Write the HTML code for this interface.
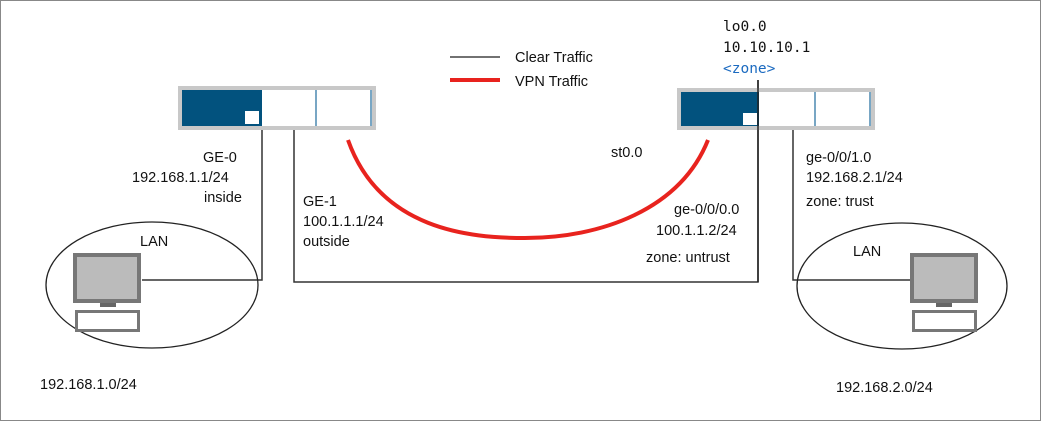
<!DOCTYPE html>
<html><head><style>
body{margin:0;background:#fff;}
svg{display:block}
text{font-family:"Liberation Sans",sans-serif;font-size:14.5px;fill:#111}
.m{font-family:"DejaVu Sans Mono","Liberation Mono",monospace;font-size:14.5px}
</style></head><body>
<svg width="1041" height="421" viewBox="0 0 1041 421">
<rect x="0.5" y="0.5" width="1040" height="420" fill="#fff" stroke="#888"/>
<line x1="450" y1="57" x2="500" y2="57" stroke="#444" stroke-width="1.5"/>
<line x1="450" y1="80" x2="500" y2="80" stroke="#e8231e" stroke-width="4"/>
<text x="515" y="62">Clear Traffic</text>
<text x="515" y="86">VPN Traffic</text>
<g stroke="#333" stroke-width="1.5" fill="none">
<polyline points="262,128 262,280 142,280"/>
<polyline points="294,128 294,282 758,282 758,80"/>
<polyline points="793,128 793,280 910,280"/>
</g>
<path d="M348,140 C380,230 470,238 525,238 C600,238 680,210 708,140" stroke="#e8231e" stroke-width="4" fill="none"/>
<g>
<rect x="178" y="86" width="198" height="44" fill="#c8c8c8"/>
<rect x="182" y="90" width="190" height="36" fill="#fff"/>
<rect x="182" y="90" width="80" height="36" fill="#02527e"/>
<rect x="245" y="111" width="14" height="13" fill="#fff"/>
<line x1="316" y1="90" x2="316" y2="126" stroke="#4a88b0" stroke-width="1.5"/>
<line x1="371" y1="90" x2="371" y2="126" stroke="#4a88b0" stroke-width="1.5"/>
</g>
<g>
<rect x="677" y="88" width="198" height="42" fill="#c8c8c8"/>
<rect x="681" y="92" width="190" height="34" fill="#fff"/>
<rect x="681" y="92" width="78" height="34" fill="#02527e"/>
<rect x="743" y="113" width="14" height="12" fill="#fff"/>
<line x1="815" y1="92" x2="815" y2="126" stroke="#4a88b0" stroke-width="1.5"/>
<line x1="870" y1="92" x2="870" y2="126" stroke="#4a88b0" stroke-width="1.5"/>
<line x1="758" y1="80" x2="758" y2="282" stroke="#222" stroke-width="1.5"/>
</g>
<ellipse cx="152" cy="285" rx="106" ry="63" fill="none" stroke="#222" stroke-width="1.3"/>
<ellipse cx="902" cy="286" rx="105" ry="63" fill="none" stroke="#222" stroke-width="1.3"/>
<g>
<rect x="73" y="253" width="68" height="50" fill="#777"/>
<rect x="77" y="257" width="60" height="42" fill="#bbb"/>
<rect x="100" y="303" width="16" height="4" fill="#666"/>
<rect x="75" y="310" width="65" height="22" fill="#777"/>
<rect x="78" y="313" width="59" height="16" fill="#fff"/>
</g>
<g>
<rect x="910" y="253" width="68" height="50" fill="#777"/>
<rect x="914" y="257" width="60" height="42" fill="#bbb"/>
<rect x="936" y="303" width="16" height="4" fill="#666"/>
<rect x="912" y="310" width="65" height="22" fill="#777"/>
<rect x="915" y="313" width="59" height="16" fill="#fff"/>
</g>
<text x="140" y="246">LAN</text>
<text x="853" y="256">LAN</text>
<text x="203" y="162">GE-0</text>
<text x="132" y="182">192.168.1.1/24</text>
<text x="204" y="202">inside</text>
<text x="303" y="206">GE-1</text>
<text x="303" y="226">100.1.1.1/24</text>
<text x="303" y="246">outside</text>
<text x="611" y="157">st0.0</text>
<text x="674" y="214">ge-0/0/0.0</text>
<text x="656" y="235">100.1.1.2/24</text>
<text x="646" y="262">zone: untrust</text>
<text x="806" y="162">ge-0/0/1.0</text>
<text x="806" y="182">192.168.2.1/24</text>
<text x="806" y="206">zone: trust</text>
<text x="40" y="389">192.168.1.0/24</text>
<text x="836" y="392">192.168.2.0/24</text>
<text class="m" x="723" y="31">lo0.0</text>
<text class="m" x="723" y="52">10.10.10.1</text>
<text class="m" x="723" y="73" style="fill:#1b6ac0">&lt;zone&gt;</text>
</svg>
</body></html>
